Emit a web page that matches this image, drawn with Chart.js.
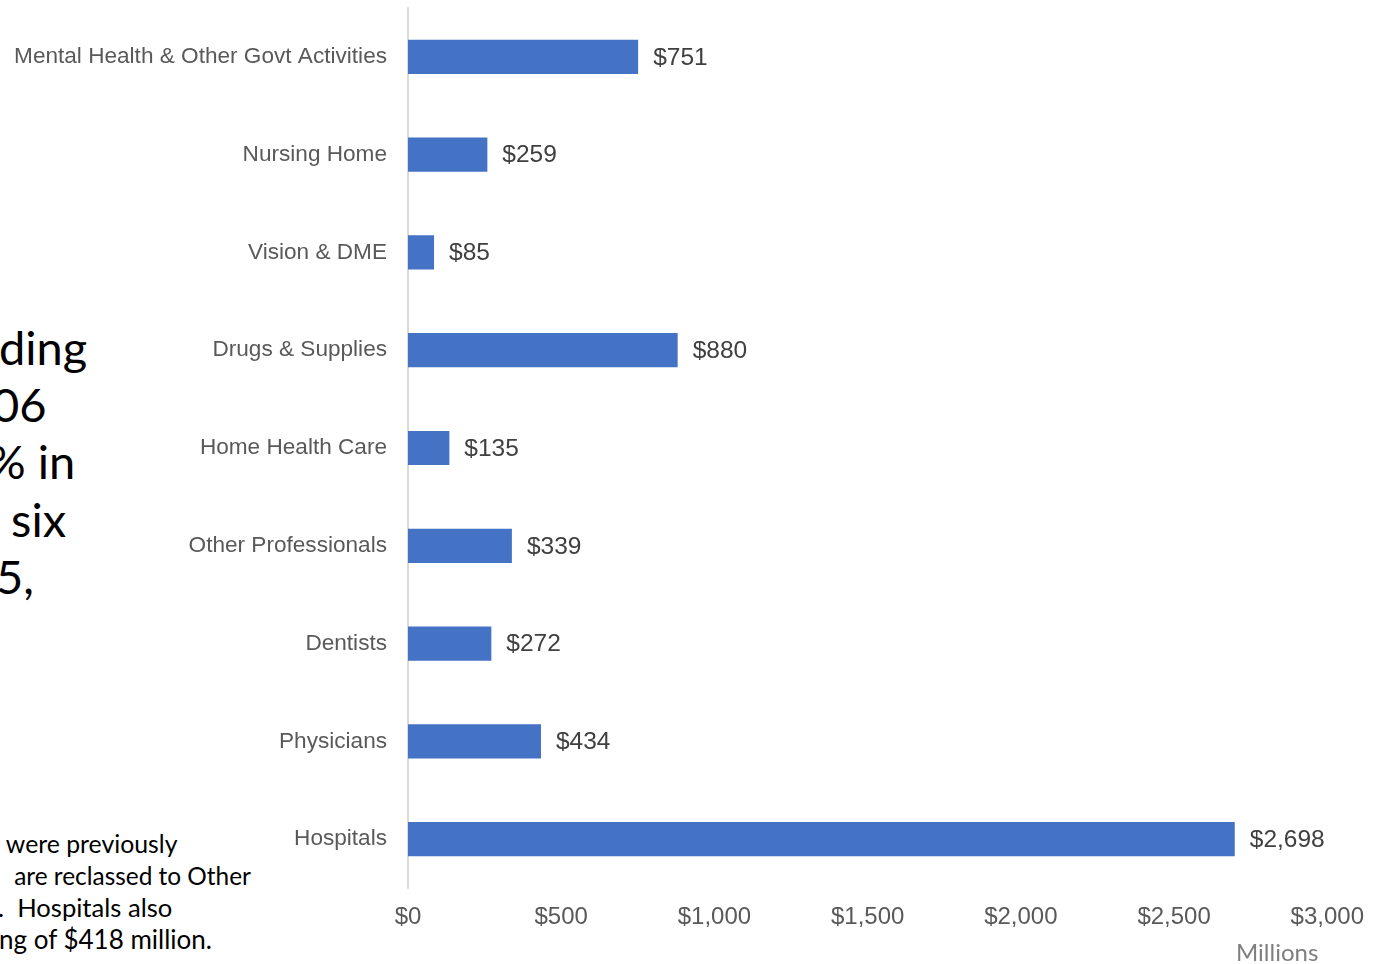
<!DOCTYPE html>
<html>
<head>
<meta charset="utf-8">
<script src="https://cdn.jsdelivr.net/npm/chart.js@4/dist/chart.umd.min.js"></script>
<style>
  html, body { margin: 0; padding: 0; background: #ffffff; }
  body { width: 1379px; height: 964px; position: relative; overflow: hidden; }
  #wrap { position: absolute; left: 0; top: 0; width: 1379px; height: 964px; }
  .big { position: absolute; font-family: Lato, "Open Sans", sans-serif; font-size: 47px; color: #000; white-space: pre; line-height: 1; }
  .note { position: absolute; font-family: Lato, "Open Sans", sans-serif; font-size: 25px; color: #000; white-space: pre; line-height: 1; }
</style>
</head>
<body>
<div class="big" style="left:-1px; top:324px;">ding</div>
<div class="big" style="left:-8px; top:381px;">06</div>
<div class="big" style="left:-12px; top:438px;">% in</div>
<div class="big" style="left:-1px; top:496px;"> six</div>
<div class="big" style="left:-4px; top:553px;">5,</div>
<div class="note" style="left:0px; top:832px; font-size:24.8px;"> were previously</div>
<div class="note" style="left:8px; top:864px; font-size:24.4px;"> are reclassed to Other</div>
<div class="note" style="left:-2px; top:895px; font-size:25.6px;">.  Hospitals also</div>
<div class="note" style="left:-1px; top:926px; font-size:26px;">ng of $418 million.</div>
<div id="wrap"><canvas id="c" width="1379" height="964"></canvas></div>
<script>
const categories = [
  "Mental Health & Other Govt Activities",
  "Nursing Home",
  "Vision & DME",
  "Drugs & Supplies",
  "Home Health Care",
  "Other Professionals",
  "Dentists",
  "Physicians",
  "Hospitals"
];
const spending = [751, 259, 85, 880, 135, 339, 272, 434, 2698];
const xTicks = [0, 500, 1000, 1500, 2000, 2500, 3000];
const unitLabel = "Millions";

const fmt = v => "$" + v.toLocaleString("en-US");

const labelFont = '"Liberation Sans", Arial, sans-serif';
const numFont = '"Liberation Sans", Arial, sans-serif';

const dataLabels = {
  id: "dataLabels",
  afterDatasetsDraw(chart) {
    const ctx = chart.ctx;
    const meta = chart.getDatasetMeta(0);
    ctx.save();
    ctx.fillStyle = "#404040";
    ctx.font = "24.5px " + numFont;
    ctx.textAlign = "left";
    ctx.textBaseline = "middle";
    meta.data.forEach((bar, i) => {
      ctx.fillText(fmt(spending[i]), bar.x + 15, bar.y + 1);
    });
    // axis unit title, right-aligned just inside the x-scale's end
    const xs = chart.scales.x;
    ctx.fillStyle = "#7f7f7f";
    ctx.font = '24px Lato, "Open Sans", sans-serif';
    ctx.textAlign = "right";
    ctx.fillText(unitLabel, xs.right - 9, xs.bottom - 11);
    ctx.restore();
  }
};

new Chart(document.getElementById("c"), {
  type: "bar",
  data: {
    labels: categories,
    datasets: [{
      data: spending,
      backgroundColor: "#4472C4",
      borderWidth: 0,
      barPercentage: 0.35,
      categoryPercentage: 1.0
    }]
  },
  plugins: [dataLabels],
  options: {
    indexAxis: "y",
    responsive: false,
    animation: false,
    devicePixelRatio: 1,
    layout: { padding: { left: 0, right: 51, top: 8, bottom: 0 } },
    plugins: { legend: { display: false }, tooltip: { enabled: false } },
    scales: {
      y: {
        afterFit(scale) {
          scale.width = 408;
          scale.paddingTop = 0;
          scale.paddingBottom = 0;
        },
        grid: { display: false, drawTicks: false },
        border: { display: true, color: "#d9d9d9", width: 2 },
        ticks: {
          padding: 21,
          color: "#595959",
          font: { family: labelFont, size: 22.6 }
        }
      },
      x: {
        min: 0,
        max: 3000,
        afterFit(scale) { scale.height = 76; },
        afterBuildTicks(scale) { scale.ticks = xTicks.map(v => ({ value: v })); },
        grid: { display: false, drawTicks: false },
        border: { display: false },
        ticks: {
          padding: 15,
          color: "#595959",
          font: { family: numFont, size: 24 },
          callback: v => fmt(v)
        }
      }
    }
  }
});
</script>
</body>
</html>
